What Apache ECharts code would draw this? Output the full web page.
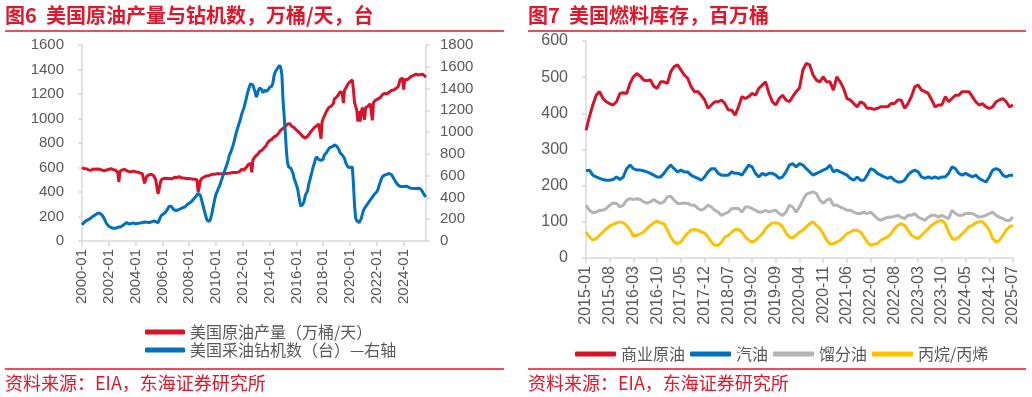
<!DOCTYPE html>
<html>
<head>
<meta charset="utf-8">
<script src="https://cdn.jsdelivr.net/npm/echarts@6/dist/echarts.min.js"></script>
<style>
  html, body { margin: 0; padding: 0; background: #fff; }
  #main { width: 1032px; height: 397px; }
</style>
</head>
<body>
<div id="main"></div>
<script>
// 月度类目：左图 2000-01 ~ 2025-09，右图 2015-01 ~ 2025-07
function months(y0, m0, y1, m1) {
  let out = []
  for (let y = y0, m = m0; y < y1 || (y === y1 && m <= m1); m++) {
    if (m > 12) { m = 1; y++ }
    if (y > y1 || (y === y1 && m > m1)) break
    out.push(y + '-' + (m < 10 ? '0' + m : m))
  }
  return out
}
const leftMonths = months(2000, 1, 2025, 9)
const rightMonths = months(2015, 1, 2025, 7)

// 美国原油产量（万桶/天）
const crudeOutput = [
  600,595,590,588,590,585,580,582,578,585,588,590,
  585,590,588,592,585,578,578,582,572,575,580,585,
  585,588,590,585,582,578,580,575,560,482,570,578,
  580,582,585,580,575,572,565,560,565,568,570,565,
  565,560,562,558,555,555,550,545,470,500,530,535,
  540,545,545,540,535,525,500,510,385,420,470,500,
  505,510,508,512,515,510,505,508,512,510,515,520,
  520,518,522,525,520,515,510,515,505,510,512,510,
  510,508,505,505,508,505,500,498,400,440,490,510,
  515,520,525,530,528,532,535,540,540,545,538,545,
  548,550,548,550,552,548,545,548,550,552,555,553,
  550,555,558,560,558,560,565,560,545,565,580,585,
  575,580,590,600,610,625,630,635,560,660,675,690,
  700,705,715,730,735,740,750,760,775,780,800,810,
  820,815,830,840,850,855,860,870,880,890,905,915,
  920,925,935,945,955,950,958,945,935,930,925,920,
  905,905,890,880,870,855,850,845,840,850,855,870,
  880,895,905,915,925,920,940,950,955,958,835,975,
  1000,1020,1040,1060,1070,1090,1095,1100,1110,1120,1160,1170,
  1175,1190,1200,1220,1220,1210,1125,1230,1240,1260,1280,1290,
  1300,1310,1315,1240,1130,1100,1070,975,1060,975,1050,1090,
  1100,990,1090,1100,1100,1110,1120,1130,985,1130,1140,1150,
  1155,1160,1162,1170,1185,1195,1200,1205,1205,1200,1210,1215,
  1220,1228,1230,1232,1240,1245,1252,1258,1290,1320,1320,1330,
  1235,1320,1320,1315,1320,1330,1335,1345,1350,1352,1355,1362,
  1365,1355,1366,1360,1370,1362,1352,1345,1338
]

// 美国采油钻机数（台）—右轴
const oilRigs = [
  150,160,172,182,188,192,198,205,212,220,228,236,
  242,250,255,257,255,248,238,225,205,180,160,145,
  135,128,124,120,116,114,117,120,126,124,128,132,
  138,145,155,165,170,162,155,158,160,163,166,160,
  158,160,162,165,166,170,170,173,175,176,172,174,
  170,172,175,180,183,178,180,186,165,190,215,235,
  252,248,258,268,280,300,320,328,318,300,288,282,
  280,276,285,290,296,300,305,302,312,322,332,342,
  346,352,362,372,386,396,408,422,438,448,420,380,
  340,300,260,220,190,176,180,200,240,290,340,390,
  432,452,480,502,532,562,592,622,652,682,712,745,
  790,810,840,870,905,950,990,1025,1060,1090,1125,1165,
  1195,1225,1265,1305,1350,1390,1420,1445,1440,1432,1400,1370,
  1322,1345,1385,1405,1412,1390,1360,1382,1400,1375,1368,1392,
  1412,1402,1422,1455,1520,1552,1565,1585,1600,1612,1590,1522,
  1292,1150,1000,830,720,680,672,668,652,620,570,545,
  512,482,420,360,318,320,342,372,420,440,462,520,
  560,600,640,682,712,752,772,760,748,742,740,745,
  752,790,800,812,832,850,860,862,866,876,882,880,
  872,860,840,810,800,790,772,760,722,702,680,678,
  675,680,680,530,330,212,186,176,168,180,205,245,
  282,300,316,332,346,362,376,386,402,416,432,446,
  452,475,510,540,570,590,600,606,606,612,620,620,
  615,610,596,576,560,540,525,514,505,500,498,500,
  498,500,505,504,500,490,485,484,480,482,480,482,
  480,485,482,480,468,450,430,415,405
]

// 美国燃料库存（百万桶）
const commercialCrude = [
  353,390,423,450,460,441,432,427,423,432,455,457,
  455,483,501,510,503,492,490,492,475,469,487,487,
  483,515,529,534,520,506,497,474,460,460,450,437,
  414,423,432,432,437,427,409,409,395,418,446,441,
  446,455,450,469,478,487,455,432,423,441,450,437,
  432,446,460,470,520,538,534,506,492,487,501,487,
  487,464,501,487,469,441,437,427,418,432,427,414,
  414,411,414,418,418,418,427,427,437,437,414,427,
  446,473,478,464,460,455,437,418,423,423,446,432,
  441,450,450,460,460,460,446,432,423,427,418,414,
  418,432,437,441,432,418,423
]
const gasoline = [
  241,243,229,224,220,217,215,215,217,224,217,224,
  247,257,247,243,243,241,238,234,229,224,224,234,
  247,257,247,238,243,238,238,229,224,220,215,224,
  238,247,247,234,229,229,229,238,234,234,229,243,
  257,252,234,224,234,229,234,234,229,220,224,238,
  257,261,252,261,257,247,238,229,234,238,243,247,
  257,238,243,238,234,229,220,215,224,215,215,229,
  247,243,234,229,224,220,224,215,210,210,215,229,
  238,243,238,224,220,224,220,224,220,224,224,234,
  252,247,234,229,234,229,224,229,220,215,210,224,
  243,247,243,229,224,229,229
]
const distillate = [
  146,132,125,127,132,132,137,146,152,151,141,146,
  160,164,162,164,162,155,152,155,162,155,151,155,
  169,171,160,151,151,152,151,146,146,137,132,137,
  146,141,132,127,118,123,127,137,137,137,127,141,
  141,137,132,127,127,132,127,130,132,123,118,127,
  146,141,127,141,160,176,180,183,178,160,151,160,
  164,146,146,141,137,132,132,127,123,123,127,123,
  127,118,109,104,109,113,113,115,118,113,109,118,
  118,123,113,109,104,113,118,118,113,118,113,109,
  132,123,118,118,123,123,123,118,113,115,118,123,
  127,118,113,109,104,104,113
]
const propane = [
  72,58,49,54,63,72,81,88,93,97,100,97,
  90,77,60,63,67,72,81,90,97,102,97,95,
  77,58,44,40,44,58,69,77,79,77,72,69,
  58,44,35,35,44,58,63,72,79,79,72,58,
  49,44,49,58,67,81,90,97,97,95,86,69,
  58,56,63,72,77,86,95,100,90,81,67,49,
  38,40,44,49,58,67,72,77,77,72,58,44,
  35,38,40,49,54,58,67,81,90,95,90,77,
  63,58,54,63,72,81,90,97,102,104,95,72,
  54,51,58,67,77,86,90,97,100,100,90,77,
  54,44,49,63,77,86,90
]

const leftTicks = [0, 200, 400, 600, 800, 1000, 1200, 1400, 1600]
const rightTicks = [0, 200, 400, 600, 800, 1000, 1200, 1400, 1600, 1800]
const stockTicks = [0, 100, 200, 300, 400, 500, 600]

const RED = '#D7132A'
const BLUE = '#0070C0'
const GRAY = '#B4B4B4'
const YELLOW = '#FFC000'
const TITLE_RED = '#E0162B'
const AXIS = '#D9D9D9'
const LABEL = '#595959'
const NUM_FONT = '"Liberation Sans", Arial, "Noto Sans CJK SC", sans-serif'
const CJK_FONT = '"Noto Sans CJK SC", "Liberation Sans", sans-serif'

let myChart = echarts.init(document.getElementById('main'))

function yAxis(grid, ticks, pos, margin, fs) {
  return {
    type: 'value',
    gridIndex: grid,
    position: pos,
    min: ticks[0],
    max: ticks[ticks.length - 1],
    interval: ticks[1] - ticks[0],
    axisLine: { show: true, lineStyle: { color: AXIS, width: 1.5 } },
    axisTick: { show: true, length: 4, lineStyle: { color: AXIS, width: 1.5 } },
    splitLine: { show: false },
    axisLabel: {
      color: LABEL,
      fontSize: fs,
      fontFamily: NUM_FONT,
      margin: margin,
      formatter: (v) => String(v), //不要千分位
    },
  }
}

function xAxis(grid, data, every, fs) {
  return {
    type: 'category',
    gridIndex: grid,
    data: data,
    boundaryGap: false,
    axisLine: { lineStyle: { color: AXIS, width: 1.5 } },
    axisTick: { show: true, interval: every - 1, length: 5, lineStyle: { color: AXIS, width: 1.5 } },
    axisLabel: {
      interval: every - 1,
      rotate: 90,
      color: LABEL,
      fontSize: fs,
      fontFamily: NUM_FONT,
      margin: 8,
    },
  }
}

function line(name, data, color, xi, yi) {
  return {
    name: name,
    type: 'line',
    data: data,
    xAxisIndex: xi,
    yAxisIndex: yi,
    showSymbol: false,
    symbol: 'none',
    lineStyle: { color: color, width: 3 },
    itemStyle: { color: color },
    emphasis: { disabled: true },
  }
}

function rule(x1, x2, y) {
  return {
    type: 'line',
    shape: { x1: x1, y1: y, x2: x2, y2: y },
    style: { stroke: TITLE_RED, lineWidth: 1.5 },
  }
}

function text(str, x, y, size, bold) {
  return {
    type: 'text',
    x: x,
    y: y,
    style: {
      text: str,
      fill: TITLE_RED,
      font: (bold ? 'bold ' : '') + size + 'px ' + CJK_FONT,
      verticalAlign: 'middle',
    },
  }
}

myChart.setOption({
  animation: false,
  grid: [
    { left: 82, top: 45, width: 344, height: 196 },
    { left: 586, top: 41, width: 427, height: 217 },
  ],
  xAxis: [
    xAxis(0, leftMonths, 24, 15),
    xAxis(1, rightMonths, 7, 16),
  ],
  yAxis: [
    yAxis(0, leftTicks, 'left', 18, 15),
    yAxis(0, rightTicks, 'right', 14, 15),
    yAxis(1, stockTicks, 'left', 18, 16),
  ],
  legend: [
    {
      orient: 'vertical',
      left: 140,
      top: 319,
      itemWidth: 40,
      itemHeight: 5,
      itemGap: 2,
      icon: 'roundRect',
      textStyle: { color: LABEL, fontSize: 16, fontFamily: CJK_FONT },
      data: ['美国原油产量（万桶/天）', '美国采油钻机数（台）—右轴'],
    },
    {
      orient: 'horizontal',
      left: 570,
      top: 341,
      itemWidth: 41,
      itemHeight: 5,
      itemGap: 5,
      icon: 'roundRect',
      textStyle: { color: LABEL, fontSize: 16, fontFamily: CJK_FONT },
      data: ['商业原油', '汽油', '馏分油', '丙烷/丙烯'],
    },
  ],
  series: [
    line('美国原油产量（万桶/天）', crudeOutput, RED, 0, 0),
    line('美国采油钻机数（台）—右轴', oilRigs, BLUE, 0, 1),
    line('商业原油', commercialCrude, RED, 1, 2),
    line('汽油', gasoline, BLUE, 1, 2),
    line('馏分油', distillate, GRAY, 1, 2),
    line('丙烷/丙烯', propane, YELLOW, 1, 2),
  ],
  graphic: [
    text('图6  美国原油产量与钻机数，万桶/天，台', 5, 15, 20, true),
    text('图7  美国燃料库存，百万桶', 528, 15, 20, true),
    rule(5, 504, 31),
    rule(528, 1026, 31),
    rule(5, 504, 369),
    rule(528, 1026, 369),
    text('资料来源：EIA，东海证券研究所', 5, 383, 18, false),
    text('资料来源：EIA，东海证券研究所', 528, 383, 18, false),
  ],
})
</script>
</body>
</html>
